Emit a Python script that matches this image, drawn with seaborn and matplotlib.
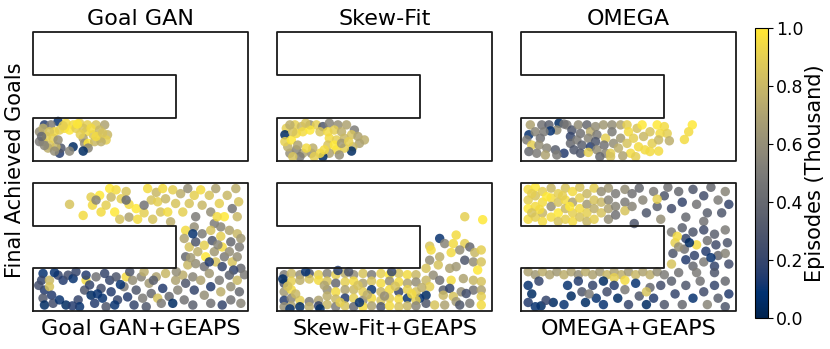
import numpy as np
import pandas as pd
import matplotlib
matplotlib.use("Agg")
import matplotlib.pyplot as plt
import seaborn as sns

plt.rcParams['font.family'] = ['DejaVu Sans']

top_titles = ["Goal GAN", "Skew-Fit", "OMEGA"]
bottom_titles = ["Goal GAN+GEAPS", "Skew-Fit+GEAPS", "OMEGA+GEAPS"]
ylabel_text = "Final Achieved Goals"
cbar_label = "Episodes (Thousand)"
cbar_ticks = [0.0, 0.2, 0.4, 0.6, 0.8, 1.0]

# maze outline (cell units)
maze_x = [0, 3, 3, 0, 0, 2, 2, 0, 0]
maze_y = [0, 0, 3, 3, 2, 2, 1, 1, 0]

# (x, y, episode/1000)
goalgan = [
    (0.16,0.84,.15),(0.35,0.92,.1),(0.25,0.84,.5),(0.46,0.88,.95),(0.56,0.84,.95),(0.65,0.88,.9),
    (0.76,0.84,.9),(0.88,0.84,.85),(1.00,0.84,.7),(1.04,0.61,.8),(1.02,0.49,.9),(0.93,0.53,.95),
    (0.84,0.61,.85),(0.74,0.68,.95),(0.70,0.53,.7),(0.72,0.41,.6),(0.77,0.41,1.0),(0.86,0.45,.8),
    (0.95,0.45,.75),(0.77,0.30,.55),(0.70,0.23,.05),(0.56,0.33,.05),(0.51,0.23,.55),(0.37,0.18,.15),
    (0.39,0.30,.3),(0.32,0.33,.8),(0.23,0.37,.85),(0.14,0.45,.7),(0.09,0.45,.5),(0.19,0.57,.9),
    (0.30,0.68,.95),(0.37,0.72,.9),(0.44,0.76,.95),(0.51,0.72,1.0),(0.60,0.76,.9),(0.70,0.76,.85),
    (0.81,0.76,.95),(0.93,0.72,.8),(0.09,0.68,.6),(0.14,0.76,.75),(0.23,0.68,.85),(0.28,0.53,.9),
    (0.35,0.49,.6),(0.12,0.57,.4),(0.21,0.30,.75),(0.30,0.23,.6),(0.88,0.57,.95),(0.97,0.65,.85),
    (0.62,0.86,1.0),(0.42,0.82,.9),(0.66,0.62,.9),(0.16,0.36,.55),
]
skewfit = [
    (0.13,0.76,.9),(0.11,0.61,.05),(0.25,0.84,.9),(0.34,0.80,.8),(0.46,0.84,.6),(0.55,0.84,.9),
    (0.64,0.80,.3),(0.73,0.88,.55),(0.85,0.84,.6),(0.97,0.84,.7),(1.08,0.72,.5),(1.04,0.61,.85),
    (1.13,0.57,.7),(1.22,0.49,.75),(1.15,0.41,.7),(1.06,0.33,.8),(1.04,0.23,.05),(0.94,0.30,.9),
    (0.83,0.26,.95),(0.73,0.18,.7),(0.64,0.10,.05),(0.60,0.18,.95),(0.48,0.18,.6),(0.36,0.18,.7),
    (0.27,0.26,.55),(0.18,0.18,.6),(0.15,0.33,.75),(0.11,0.45,.9),(0.20,0.49,1.0),(0.27,0.64,.95),
    (0.22,0.68,.85),(0.36,0.68,.95),(0.46,0.72,1.0),(0.60,0.68,.85),(0.71,0.68,.95),(0.80,0.72,.9),
    (0.90,0.68,.75),(0.73,0.53,.95),(0.83,0.49,.9),(0.94,0.53,.8),(0.71,0.37,.85),(0.80,0.37,1.0),
    (0.90,0.41,.65),(0.50,0.30,.75),(0.41,0.30,.95),(0.29,0.37,.7),(0.66,0.26,.95),(0.52,0.10,.9),
    (0.87,0.14,.6),(0.32,0.10,.5),(0.18,0.84,.75),(0.40,0.88,.85),(1.00,0.45,.9),(0.22,0.10,.85),
]
omega = [
    (0.13,0.84,.7),(0.11,0.61,.1),(0.08,0.49,.5),(0.15,0.37,.9),(0.11,0.22,.4),(0.22,0.18,.5),
    (0.20,0.68,.55),(0.29,0.84,.45),(0.39,0.84,.35),(0.53,0.88,.05),(0.50,0.72,.6),(0.41,0.70,.1),
    (0.32,0.68,.5),(0.27,0.53,.45),(0.25,0.37,.6),(0.36,0.30,.55),(0.48,0.26,.35),(0.60,0.18,.15),
    (0.50,0.14,.5),(0.34,0.14,.7),(0.64,0.84,.5),(0.71,0.72,.3),(0.69,0.57,.2),(0.69,0.41,.4),
    (0.74,0.26,.3),(0.80,0.84,.6),(0.83,0.64,.45),(0.78,0.49,.5),(0.85,0.37,.35),(0.83,0.18,.3),
    (0.92,0.84,.4),(0.97,0.68,.75),(0.94,0.53,.55),(0.97,0.33,.15),(0.94,0.20,.9),(1.04,0.80,.6),
    (1.06,0.61,.5),(1.04,0.45,.3),(1.06,0.26,.6),(1.15,0.84,.65),(1.18,0.53,.9),(1.16,0.37,.45),
    (1.18,0.18,.55),(1.27,0.84,.6),(1.27,0.68,.5),(1.25,0.18,.9),(1.29,0.41,.6),(1.39,0.84,.7),
    (1.39,0.53,.65),(1.36,0.30,.75),(1.48,0.84,.9),(1.50,0.68,.95),(1.48,0.41,.85),(1.53,0.18,.95),
    (1.57,0.53,.9),(1.62,0.76,.85),(1.64,0.33,.95),(1.69,0.84,1.0),(1.71,0.57,.8),(1.73,0.26,.95),
    (1.80,0.68,.85),(1.83,0.41,.9),(1.80,0.22,.95),(1.90,0.84,1.0),(1.94,0.64,.95),(1.92,0.49,.8),
    (1.92,0.23,.95),(2.00,0.80,.95),(2.04,0.64,.9),(2.07,0.47,.75),(2.28,0.50,.95),(2.34,0.68,.95),
    (2.39,0.84,1.0),(1.25,0.10,.85),(0.60,0.86,.45),(1.10,0.10,.4),(1.42,0.12,.7),(1.60,0.10,.9),
]
goalgan_geaps = [
    (0.51,2.50,.85),(0.70,2.24,.95),(0.81,2.67,.9),(0.83,2.48,.95),(0.93,2.71,1.0),(0.95,2.32,.95),
    (1.02,2.48,.9),(1.07,2.87,1.0),(1.09,2.67,.8),(1.16,2.84,.95),(1.14,2.32,1.0),(1.21,2.15,.85),
    (1.23,2.63,.9),(1.30,2.80,.85),(1.34,2.50,.95),(1.34,2.20,.7),(1.44,2.40,1.0),(1.46,2.15,.95),
    (1.55,2.30,.9),(1.60,2.87,.95),(1.65,2.60,.85),(1.67,2.15,.85),(1.72,2.78,.8),(1.74,2.56,.9),
    (1.78,2.32,.85),(1.81,2.87,.95),(1.85,2.63,.8),(1.88,2.32,.95),(1.92,2.09,.75),(1.95,2.84,.9),
    (1.99,2.52,.85),(2.06,2.75,.75),(2.09,2.32,.9),(2.16,2.87,.6),(2.18,2.52,.85),(2.25,2.71,.9),
    (2.27,2.21,.5),(2.34,2.84,.95),(2.36,2.48,.8),(2.46,2.71,.85),(2.48,2.32,.6),(2.55,2.87,.7),
    (2.60,2.52,.9),(2.67,2.21,1.0),(2.71,2.71,.8),(2.78,2.40,.45),(2.83,2.87,.75),(2.85,2.21,.8),
    (2.87,2.56,.85),(2.53,2.05,.5),(1.55,2.48,.45),(1.30,2.60,.4),(0.88,2.60,.55),(2.57,2.21,.95),
    (2.13,1.89,.95),(2.11,1.70,.7),(2.18,1.50,.85),(2.13,1.27,.4),(2.16,1.08,.8),(2.25,1.97,.6),
    (2.27,1.62,.3),(2.30,1.39,.75),(2.27,1.11,.6),(2.36,1.81,.5),(2.39,1.54,.9),(2.41,1.27,1.0),
    (2.39,1.04,.45),(2.48,1.89,.85),(2.50,1.65,.3),(2.53,1.39,.65),(2.55,1.15,.85),(2.62,1.97,.55),
    (2.62,1.75,.9),(2.64,1.50,.95),(2.67,1.27,.5),(2.64,1.04,.2),(2.74,1.89,.7),(2.76,1.62,.4),
    (2.74,1.39,.6),(2.78,1.15,.85),(2.85,1.81,.8),(2.88,1.50,.5),(2.85,1.27,.6),(2.90,1.00,.4),
    (2.23,1.81,.1),(2.46,1.15,.15),(2.80,0.96,.2),(2.20,1.25,.65),(2.58,1.55,.55),(2.90,1.70,.65),
    (0.14,0.88,.1),(0.12,0.72,.2),(0.16,0.49,.15),(0.14,0.30,.3),(0.16,0.14,.05),(0.23,0.72,.8),
    (0.23,0.57,.85),(0.26,0.37,.15),(0.28,0.18,.25),(0.35,0.84,.2),(0.37,0.26,.1),(0.42,0.72,.15),
    (0.49,0.84,.25),(0.46,0.14,.05),(0.56,0.76,.1),(0.63,0.26,.2),(0.65,0.10,.1),(0.74,0.72,.95),
    (0.74,0.84,.15),(0.72,0.49,.3),(0.79,0.61,.2),(0.81,0.37,.05),(0.86,0.18,.15),(0.88,0.80,.45),
    (0.95,0.53,.25),(0.97,0.30,.1),(1.02,0.10,.3),(1.07,0.72,.2),(1.09,0.45,.15),(1.16,0.80,.3),
    (1.18,0.26,.2),(1.30,0.80,.95),(1.27,0.57,.5),(1.32,0.33,.15),(1.39,0.72,.6),(1.44,0.49,.3),
    (1.41,0.14,.2),(1.51,0.80,.55),(1.55,0.92,.75),(1.53,0.30,.5),(1.62,0.65,.65),(1.65,0.41,.4),
    (1.74,0.30,.85),(1.72,0.80,.7),(1.81,0.53,.15),(1.85,0.88,.8),(1.90,0.34,.4),(1.95,0.18,.05),
    (1.99,0.72,.7),(2.02,0.49,.55),(2.09,0.84,.75),(2.13,0.65,.3),(2.11,0.26,.45),(2.23,0.80,.55),
    (2.25,0.49,.2),(2.23,0.14,.35),(2.34,0.72,.7),(2.39,0.37,.6),(2.46,0.88,.65),(2.48,0.57,.15),
    (2.48,0.18,.45),(2.60,0.72,.5),(2.62,0.45,.75),(2.64,0.14,.2),(2.74,0.84,.35),(2.76,0.57,.6),
    (2.76,0.26,.45),(2.85,0.72,.8),(2.88,0.45,.4),(2.90,0.18,.55),(1.79,0.18,.5),(1.14,0.14,.1),
    (1.68,0.72,.35),(0.55,0.12,.15),(0.30,0.90,.1),(0.08,0.60,.25),(1.00,0.88,.2),(0.90,0.40,.1),
    (1.22,0.62,.1),(1.58,0.10,.3),(2.00,0.92,.6),(1.35,0.92,.3),(0.60,0.92,.2),(2.95,0.85,.5),
]
skewfit_geaps = [
    (2.62,2.21,.9),(2.87,2.14,1.0),(2.27,1.70,.1),(2.50,1.78,.95),(2.34,1.58,.55),(2.46,1.58,.95),
    (2.62,1.58,.9),(2.69,1.50,.4),(2.13,1.52,.85),(2.15,1.43,.95),(2.43,1.37,.95),(2.55,1.43,.6),
    (2.76,1.37,.8),(2.85,1.43,.9),(2.27,1.27,.75),(2.13,1.19,.6),(2.62,1.19,.3),(2.74,1.15,.6),
    (2.85,1.15,.85),(2.25,1.08,.85),(2.41,1.00,.7),(2.50,1.04,.65),(2.80,0.96,1.0),(2.08,1.00,.85),
    (2.18,0.84,.6),(2.08,0.72,.8),(2.27,0.72,.45),(2.43,0.72,.95),(2.60,0.76,.7),(2.74,0.72,.8),
    (2.85,0.69,.85),(2.13,0.57,.9),(2.32,0.49,.35),(2.41,0.53,.2),(2.57,0.45,.6),(2.74,0.49,.45),
    (2.85,0.49,.7),(2.08,0.37,.05),(2.32,0.37,.8),(2.46,0.34,.85),(2.64,0.41,.25),(2.85,0.34,.9),
    (2.08,0.18,.3),(2.20,0.14,.85),(2.34,0.14,.7),(2.50,0.22,.65),(2.55,0.14,.3),(2.69,0.18,.5),
    (2.85,0.14,.95),(1.99,0.30,.1),
    (0.10,0.85,.5),(0.10,0.65,.3),(0.10,0.45,.65),(0.10,0.25,.15),(0.10,0.10,.6),
    (0.20,0.88,.8),(0.20,0.70,.9),(0.20,0.50,.95),(0.20,0.30,.55),(0.20,0.12,.7),
    (0.32,0.85,.6),(0.32,0.72,.75),(0.32,0.25,.9),(0.32,0.10,.05),
    (0.45,0.88,.3),(0.45,0.75,.85),(0.45,0.22,.5),(0.45,0.10,.75),
    (0.58,0.85,.9),(0.58,0.72,.95),(0.58,0.25,.7),(0.58,0.12,.2),
    (0.70,0.88,.55),(0.70,0.70,.85),(0.70,0.50,.6),(0.70,0.35,.75),(0.70,0.15,.8),
    (0.82,0.85,.9),(0.82,0.65,.4),(0.82,0.45,.95),(0.82,0.28,.8),(0.82,0.10,.5),
    (0.95,0.88,.75),(0.95,0.68,.9),(0.95,0.50,.7),(0.95,0.30,.15),(0.95,0.12,.85),
    (1.07,0.85,.6),(1.07,0.70,.95),(1.07,0.50,.8),(1.07,0.30,.9),(1.07,0.10,.4),
    (1.20,0.88,.85),(1.20,0.65,.7),(1.20,0.45,.9),(1.20,0.25,.6),(1.20,0.10,.95),
    (1.32,0.85,.5),(1.32,0.70,.85),(1.32,0.50,.1),(1.32,0.30,.95),(1.32,0.12,.7),
    (1.45,0.88,.9),(1.45,0.65,.95),(1.45,0.45,.8),(1.45,0.25,.85),(1.45,0.10,.3),
    (1.57,0.85,1.0),(1.57,0.70,.6),(1.57,0.50,.95),(1.57,0.30,.9),(1.57,0.12,.95),
    (1.70,0.88,.85),(1.70,0.68,.95),(1.70,0.45,.2),(1.70,0.28,.95),(1.70,0.10,.85),
    (1.82,0.85,.95),(1.82,0.65,.7),(1.82,0.50,.9),(1.82,0.30,.1),(1.82,0.12,.8),
    (1.94,0.85,.8),(1.94,0.68,.6),(1.94,0.45,.85),(1.94,0.25,.9),(1.94,0.12,.55),
    (0.08,0.75,.05),(0.40,0.92,.1),(0.85,0.95,.15),(1.15,0.20,.1),(1.60,0.92,.2),(1.00,0.92,.3),
    (0.60,0.05,.05),(0.18,0.05,.1),(0.26,0.40,.8),(0.66,0.60,.7),(1.13,0.60,.85),(1.50,0.35,.6),
    (1.88,0.40,.95),(1.26,0.38,.75),(0.88,0.20,.9),(1.65,0.58,.85),(0.15,0.58,.85),(2.02,0.55,.75),
]
omega_geaps = [
    (0.10,2.85,.95),(0.10,2.60,.9),(0.10,2.40,1.0),(0.10,2.15,.95),
    (0.20,2.90,1.0),(0.20,2.70,.85),(0.20,2.45,.95),(0.20,2.20,.9),
    (0.30,2.80,.9),(0.30,2.55,.95),(0.30,2.30,.8),(0.30,2.10,.95),
    (0.42,2.88,.8),(0.42,2.65,.95),(0.42,2.45,.6),(0.42,2.20,.95),
    (0.52,2.75,.9),(0.52,2.55,.85),(0.52,2.30,1.0),(0.52,2.10,.85),
    (0.62,2.88,.85),(0.62,2.60,.95),(0.62,2.40,.8),(0.62,2.15,.9),
    (0.72,2.80,.95),(0.72,2.55,.7),(0.72,2.30,.9),(0.72,2.10,.95),
    (0.82,2.90,.85),(0.82,2.65,.9),(0.82,2.40,.95),(0.82,2.20,.85),
    (0.92,2.75,.8),(0.92,2.50,.65),(0.92,2.30,.9),(0.92,2.10,.8),
    (1.02,2.88,.9),(1.02,2.60,.85),(1.02,2.40,.75),(1.02,2.15,.9),
    (1.12,2.80,.6),(1.12,2.55,.8),(1.12,2.30,.85),
    (1.22,2.88,.65),(1.22,2.60,.55),(1.22,2.40,.7),(1.22,2.15,.6),
    (1.32,2.75,.5),(1.32,2.45,.55),(1.32,2.25,.45),
    (1.45,2.85,.6),(1.45,2.55,.5),(1.45,2.35,.85),
    (1.55,2.75,.45),(1.55,2.45,.55),
    (0.15,2.75,.9),(0.36,2.68,1.0),(0.58,2.70,.9),(0.26,2.38,.95),(0.68,2.45,1.0),(0.15,2.30,.85),
    (1.65,2.88,.4),(1.70,2.60,.55),(1.75,2.30,.3),(1.85,2.80,.5),(1.90,2.45,.35),(1.95,2.15,.6),
    (2.00,2.70,.3),(2.05,2.90,.45),(2.10,2.40,.25),(2.20,2.80,.4),(2.25,2.55,.2),(2.30,2.20,.4),
    (2.40,2.85,.3),(2.45,2.50,.45),(2.55,2.70,.25),(2.60,2.30,.35),(2.65,2.90,.4),(2.75,2.60,.5),
    (2.80,2.30,.3),(2.85,2.80,.55),(2.90,2.50,.2),(2.55,2.10,.45),(1.58,2.05,.3),(1.90,2.62,.9),
    (2.10,1.85,.5),(2.15,1.60,.9),(2.12,1.35,.3),(2.10,1.10,.85),(2.25,1.95,.35),(2.30,1.70,.2),
    (2.28,1.45,.45),(2.30,1.20,.15),(2.40,1.85,.3),(2.45,1.55,.95),(2.42,1.30,.2),(2.40,1.05,.4),
    (2.55,1.90,.25),(2.60,1.65,.45),(2.58,1.40,.15),(2.55,1.15,.5),(2.70,1.80,.35),(2.72,1.55,.25),
    (2.75,1.30,.4),(2.70,1.05,.2),(2.85,1.90,.5),(2.88,1.60,.3),(2.85,1.35,.55),(2.90,1.10,.25),
    (2.20,1.50,.6),(2.35,1.60,.05),(2.65,1.25,.1),(2.18,1.75,.95),
    (0.10,0.92,.7),(0.20,0.85,.65),(0.30,0.92,.75),(0.40,0.85,.7),(0.50,0.92,.65),(0.60,0.85,.75),
    (0.70,0.92,.7),(0.80,0.85,.6),(0.90,0.92,.75),(1.00,0.85,.7),(1.10,0.92,.65),(1.20,0.85,.8),
    (1.30,0.92,.7),(1.40,0.85,.75),(1.50,0.92,.65),(1.60,0.85,.8),(1.70,0.92,.7),(1.80,0.85,.75),
    (1.90,0.92,.6),(2.00,0.85,.5),(1.30,0.78,.9),(1.45,0.72,.95),
    (0.10,0.60,.1),(0.15,0.40,.05),(0.10,0.20,.15),(0.25,0.70,.2),(0.28,0.12,.05),(0.65,0.60,.1),
    (0.70,0.35,.05),(0.60,0.15,.1),(0.80,0.70,.15),(0.85,0.45,.3),(0.90,0.20,.05),(1.00,0.60,.2),
    (1.05,0.30,.1),(1.15,0.70,.05),(1.20,0.45,.25),(1.15,0.15,.1),(1.30,0.60,.15),(1.35,0.30,.05),
    (1.45,0.50,.5),(1.50,0.15,.2),(1.60,0.65,.1),(1.65,0.35,.3),(1.75,0.15,.05),(1.80,0.55,.4),
    (1.85,0.30,.15),(1.95,0.60,.25),(2.00,0.15,.3),(2.10,0.70,.35),(2.15,0.40,.2),(2.25,0.15,.4),
    (2.30,0.60,.3),(2.40,0.30,.1),(2.50,0.70,.45),(2.55,0.45,.25),(2.60,0.15,.55),(2.70,0.60,.2),
    (2.75,0.30,.35),(2.85,0.70,.4),(2.90,0.40,.15),(2.85,0.10,.3),(2.45,0.90,.5),(2.70,0.90,.3),
    (2.20,0.90,.45),(1.75,0.45,.85),(0.45,0.20,.05),(0.35,0.25,.2),(0.95,0.40,.5),(0.20,0.10,.1),
]

panels = [goalgan, skewfit, omega, goalgan_geaps, skewfit_geaps, omega_geaps]

W, H = 830, 349
fig = plt.figure(figsize=(W / 100, H / 100), dpi=100)

col_x = [33, 277, 521]
col_w = 215
row_y = [32, 183]
row_h = [129, 128]

cmap = "cividis"
norm = matplotlib.colors.Normalize(0, 1)

for i, pts in enumerate(panels):
    r, c = divmod(i, 3)
    left = col_x[c] / W
    bottom = 1 - (row_y[r] + row_h[r]) / H
    ax = fig.add_axes([left, bottom, col_w / W, row_h[r] / H])
    df = pd.DataFrame(pts, columns=["x", "y", "ep"])
    sns.scatterplot(data=df, x="x", y="y", hue="ep", palette=cmap, hue_norm=(0, 1),
                    s=46, alpha=0.85, linewidth=0, legend=False, ax=ax)
    ax.plot(maze_x, maze_y, color="#1a1a1a", lw=1.3, clip_on=False, zorder=5)
    ax.set_xlim(0, 3)
    ax.set_ylim(0, 3)
    ax.set_xticks([])
    ax.set_yticks([])
    for s in ax.spines.values():
        s.set_visible(False)
    if r == 0:
        ax.set_title(top_titles[c], fontsize=16, pad=5)
        ax.set_xlabel("")
    else:
        ax.set_xlabel(bottom_titles[c], fontsize=16, labelpad=6)
    ax.set_ylabel("")

fig.text(15 / W, 1 - 170 / H, ylabel_text, rotation=90, fontsize=15,
         ha="center", va="center")

cax = fig.add_axes([755 / W, 1 - 318 / H, 13 / W, 290 / H])
sm = matplotlib.cm.ScalarMappable(norm=norm, cmap=cmap)
cb = fig.colorbar(sm, cax=cax, ticks=cbar_ticks)
cb.ax.set_yticklabels([f"{t:.1f}" for t in cbar_ticks])
cb.ax.tick_params(labelsize=12.5, length=3.5, pad=2)
cb.set_label(cbar_label, fontsize=15, labelpad=1)
cb.outline.set_linewidth(0.8)

fig.savefig("out.png", dpi=100)
